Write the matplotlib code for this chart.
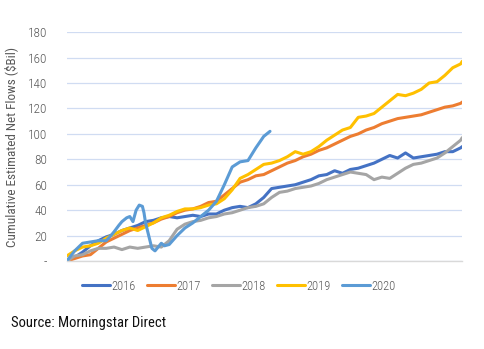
import numpy as np
import matplotlib.pyplot as plt

# Data: cumulative estimated net flows ($Bil) by trading day of the year
days = list(range(0, 251, 5)) + [251]

flows_2016 = [0, 3, 7, 12, 16, 19, 21, 24, 26, 28, 31, 32, 34, 35, 34, 35, 36, 35, 37, 37,
              40, 42, 43, 42, 45, 50, 57, 58, 59, 60, 62, 64, 67, 68, 71, 69, 72, 73, 75, 77,
              80, 83, 81, 85, 81, 82, 83, 84, 86, 86, 89, 90]
flows_2017 = [0, 2, 4, 5, 10, 15, 18, 21, 24, 26, 28, 30, 33, 35, 38, 40, 41, 43, 46, 47,
              52, 57, 62, 64, 67, 68, 71, 74, 77, 79, 82, 84, 87, 89, 92, 95, 98, 100, 103, 105,
              108, 110, 112, 113, 114, 115, 117, 119, 121, 122, 124, 125]
flows_2018 = [0, 4, 5, 8, 10, 10, 11, 9, 11, 10, 11, 12, 11, 16, 25, 29, 31, 32, 34, 35,
              37, 38, 40, 42, 43, 45, 50, 54, 55, 57, 58, 59, 61, 64, 66, 68, 70, 69, 68, 64,
              66, 65, 69, 73, 76, 77, 79, 81, 85, 90, 95, 97]
flows_2019 = [4, 8, 11, 12, 14, 18, 21, 24, 26, 24, 27, 30, 34, 36, 39, 41, 41, 42, 44, 45,
              49, 56, 65, 68, 72, 76, 77, 79, 82, 86, 84, 86, 90, 95, 99, 103, 105, 113, 114, 116,
              121, 126, 131, 130, 132, 135, 140, 141, 146, 152, 155, 157]

days_2020 = [0, 5, 10, 15, 20, 25, 28, 30, 33, 35, 38, 40, 42, 44, 46, 48, 49, 50, 52, 54,
             56, 58, 60, 62, 65, 70, 75, 80, 85, 90, 95, 100, 105, 110, 115, 120, 125, 129]
flows_2020 = [0, 8, 14, 15, 16, 16, 20, 23, 28, 31, 34, 35, 31, 40, 44, 43, 38, 30, 20, 10,
              8, 11, 14, 12, 13, 20, 26, 30, 35, 40, 47, 60, 74, 78, 79, 89, 98, 102]

series = [
    ("2016", days, flows_2016, "#4472C4"),
    ("2017", days, flows_2017, "#ED7D31"),
    ("2018", days, flows_2018, "#A5A5A5"),
    ("2019", days, flows_2019, "#FFC000"),
    ("2020", days_2020, flows_2020, "#5B9BD5"),
]

yticks = [0, 20, 40, 60, 80, 100, 120, 140, 160, 180]
ytick_labels = ["-", "20", "40", "60", "80", "100", "120", "140", "160", "180"]

plt.rcParams['font.family'] = ['Roboto Condensed', 'DejaVu Sans']
plt.rcParams['font.weight'] = 'light'

fig = plt.figure(figsize=(4.84, 3.49), dpi=100)
ax = fig.add_axes([0.138, 0.252, 0.817, 0.656])

for label, x, y, color in series:
    ax.plot(x, y, color=color, linewidth=2.2, label=label, solid_capstyle='round')

ax.set_xlim(0, 251)
ax.set_ylim(0, 180)
ax.set_yticks(yticks)
ax.set_yticklabels(ytick_labels)
ax.set_xticks([])
ax.tick_params(axis='y', length=0, labelsize=9.5, labelcolor='#595959', pad=14)

ax.grid(axis='y', color='#d0dcf2', linewidth=0.9)
ax.set_axisbelow(True)
for side in ['top', 'right', 'left']:
    ax.spines[side].set_visible(False)
ax.spines['bottom'].set_color('#d9d9d9')
ax.spines['bottom'].set_linewidth(1.0)

ax.set_ylabel("Cumulative Estimated Net Flows ($Bil)", fontsize=9.5, color='#595959', labelpad=7)

fig.legend(loc='center', bbox_to_anchor=(0.494, 0.18), ncol=5, frameon=False,
           fontsize=9, handlelength=2.2, handletextpad=0.15, columnspacing=0.9,
           labelcolor='#595959')

fig.text(0.023, 0.063, "Source: Morningstar Direct", fontsize=10.5, color='#111111',
         fontweight='normal')

fig.savefig("out.png", dpi=100)
